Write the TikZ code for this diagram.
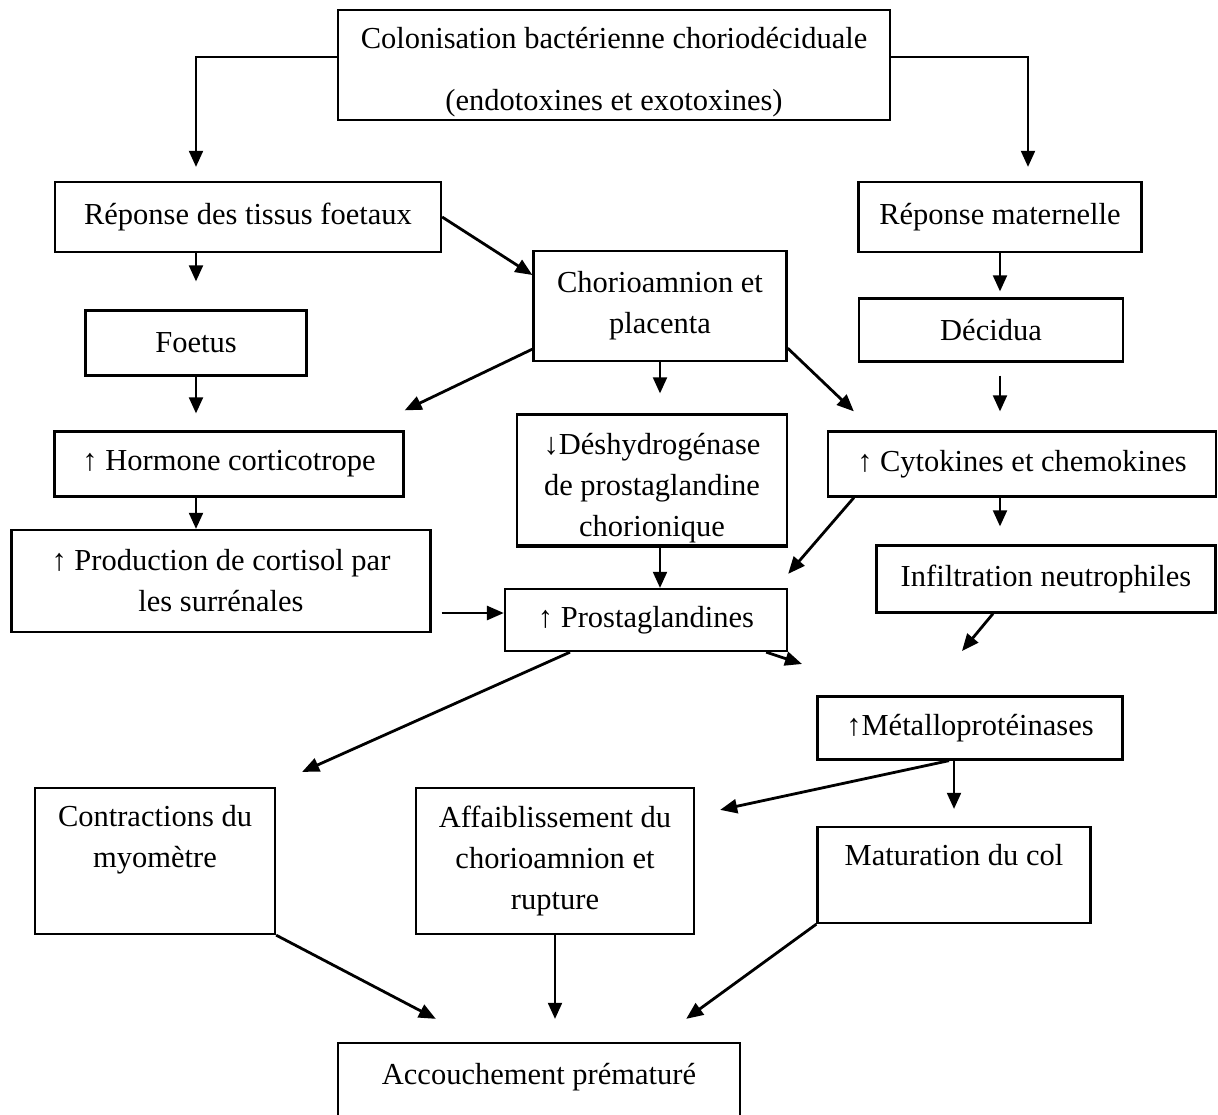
\documentclass[tikz,border=0pt]{standalone}
\usepackage{fontspec}
\setmainfont{Liberation Serif}
\usetikzlibrary{arrows.meta}
\begin{document}
\begin{tikzpicture}[x=1pt,y=-1pt,
  txtfont/.style={font=\fontsize{30.5}{41}\selectfont},
  box/.style={draw, line width=2.3pt, inner sep=0pt, align=center, txtfont},
  lbl/.style={inner sep=0pt, align=center, anchor=north, txtfont},
  arr/.style={line width=2.8pt, -{Triangle[length=17pt,width=14pt]}},
  varr/.style={line width=2pt, -{Triangle[length=16pt,width=14pt]}}]
\useasboundingbox (0,0) rectangle (1218,1114);
\clip (0,0) rectangle (1218,1114);
% boxes
\node[box, minimum width=552, minimum height=110] (top) at (614,65) {};
\node[lbl] (toptxt) at ([yshift=-18pt]top.north)
  {Colonisation bactérienne choriodéciduale\\[21pt](endotoxines et exotoxines)};
\node[box, minimum width=386, minimum height=70] (tissus) at (248,217) {Réponse des tissus foetaux};
\node[box, minimum width=283, minimum height=70] (maternelle) at (1000,217) {Réponse maternelle};
\node[box, minimum width=253, minimum height=110] (chorio) at (660,306) {Chorioamnion et\\placenta};
\node[box, minimum width=221, minimum height=65] (foetus) at (196,343) {Foetus};
\node[box, minimum width=264, minimum height=63] (decidua) at (991,330) {Décidua};
\node[box, minimum width=349, minimum height=65] (hormone) at (229,464) {↑ Hormone corticotrope};
\node[box, minimum width=270, minimum height=131] (deshydro) at (652,480) {};
\node[lbl] (deshydrotxt) at ([yshift=-20pt]deshydro.north) {↓Déshydrogénase\\de prostaglandine\\chorionique};
\node[box, minimum width=388, minimum height=65] (cyto) at (1022,464) {↑ Cytokines et chemokines};
\node[box, minimum width=419, minimum height=102] (production) at (221,581) {↑ Production de cortisol par\\les surrénales};
\node[box, minimum width=282, minimum height=62] (prosta) at (646,620) {↑ Prostaglandines};
\node[box, minimum width=339, minimum height=67] (infiltr) at (1046,579) {Infiltration neutrophiles};
\node[box, minimum width=305, minimum height=63] (metallo) at (970,728) {↑Métalloprotéinases};
\node[box, minimum width=240, minimum height=146] (contr) at (155,861) {};
\node[lbl] (contrtxt) at ([yshift=-18pt]contr.north) {Contractions du\\myomètre};
\node[box, minimum width=278, minimum height=146] (affaib) at (555,861) {Affaiblissement du\\chorioamnion et\\rupture};
\node[box, minimum width=273, minimum height=96] (matur) at (954,875) {};
\node[lbl] (maturtxt) at ([yshift=-18pt]matur.north) {Maturation du col};
\node[box, minimum width=402, minimum height=90] (accouch) at (539,1088) {};
\node[lbl] (accouchtxt) at ([yshift=-21pt]accouch.north) {Accouchement prématuré};
% redraw deshydro border over clipped descender
\draw[line width=2.3pt] (deshydro.south west) -- (deshydro.south east);
% free ends
\coordinate (pp) at ([yshift=7pt]prosta.west);
\coordinate (freeA) at (802,664);
\coordinate (freeB) at (962,651);
% connectors
\draw[varr, shorten >=14pt] ([yshift=8pt]top.west) -| (tissus.north -| foetus.north);
\draw[varr, shorten >=14pt] ([yshift=8pt]top.east) -| ([xshift=28pt]maternelle.north);
\draw[varr, shorten >=28pt] (tissus.south -| foetus.north) -- (foetus.north);
\draw[arr] (tissus.east) -- ([yshift=31pt]chorio.west);
\draw[varr, shorten >=6pt] (maternelle.south) -- (maternelle.south |- decidua.north);
\draw[varr, shorten >=17pt] (foetus.south) -- (foetus.south |- hormone.north);
\draw[arr] ([yshift=13pt]chorio.south west) -- ([yshift=20pt]hormone.north east);
\draw[varr, shorten >=20pt] (chorio.south) -- (chorio.south |- deshydro.north);
\draw[arr] ([yshift=14pt]chorio.south east) -- ([xshift=27pt,yshift=19pt]cyto.north west);
\draw[varr, shorten <=13pt, shorten >=19pt] (decidua.south -| maternelle.south) -- (maternelle.south |- cyto.north);
\draw[varr] (hormone.south -| foetus.south) -- (foetus.south |- production.north);
\draw[varr] (deshydro.south -| chorio.south) -- (chorio.south |- prosta.north);
\draw[arr] ([xshift=27pt]cyto.south west) -- ([yshift=14pt]prosta.north east);
\draw[varr, shorten >=18pt] (cyto.south -| maternelle.south) -- (maternelle.south |- infiltr.north);
\draw[arr, shorten <=10pt] (production.east |- pp) -- (pp);
\draw[arr] ([xshift=-22pt]prosta.south east) -- (freeA);
\draw[arr] ([xshift=-53pt]infiltr.south) -- (freeB);
\draw[arr] ([xshift=-76pt]prosta.south) -- ([xshift=26pt,yshift=15pt]contr.north east);
\draw[arr] ([xshift=-21pt]metallo.south) -- ([xshift=25pt,yshift=-23pt]affaib.north east);
\draw[varr, shorten >=17pt] (metallo.south -| matur.north) -- (matur.north);
\draw[arr] (contr.south east) -- ([xshift=99pt,yshift=23pt]accouch.north west);
\draw[varr, shorten >=23pt] (affaib.south) -- (affaib.south |- accouch.north);
\draw[arr] (matur.south west) -- ([xshift=-55pt,yshift=23pt]accouch.north east);
\end{tikzpicture}
\end{document}
